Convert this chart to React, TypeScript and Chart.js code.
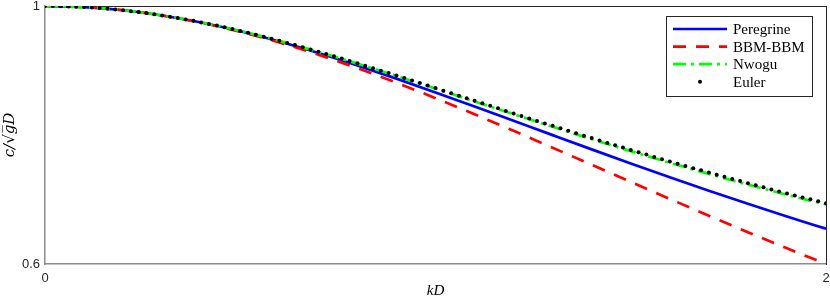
import React, { useEffect, useRef } from "react";
import { Chart, registerables } from "chart.js";

Chart.register(...registerables);

// kD values for the model curves
const kLine = [0, 0.1, 0.2, 0.3, 0.4, 0.5, 0.6, 0.7, 0.8, 0.9, 1.0, 1.1, 1.2, 1.3, 1.4, 1.5, 1.6, 1.7, 1.8, 1.9, 2.0];

const peregrine = [1, 0.99834, 0.9934, 0.98533, 0.97435, 0.96077, 0.94491, 0.92715, 0.90784, 0.88736, 0.86603,
  0.84415, 0.82199, 0.79979, 0.77771, 0.75593, 0.73455, 0.71368, 0.69338, 0.67369, 0.65465];

const bbmBbm = [1, 0.99834, 0.99338, 0.98522, 0.97403, 0.96, 0.9434, 0.9245, 0.90361, 0.88106, 0.85714,
  0.83218, 0.80645, 0.78023, 0.75377, 0.72727, 0.70093, 0.67492, 0.64935, 0.62435, 0.6];

const nwogu = [1, 0.99834, 0.99341, 0.9854, 0.97458, 0.96128, 0.94592, 0.92891, 0.91065, 0.89153, 0.87189,
  0.85205, 0.83224, 0.81269, 0.79355, 0.77494, 0.75696, 0.73967, 0.72311, 0.70729, 0.69222];

// kD values for the Euler reference points
const kEuler = [0, 0.02, 0.04, 0.06, 0.08, 0.1, 0.12, 0.14, 0.16, 0.18, 0.2, 0.22, 0.24, 0.26, 0.28, 0.3, 0.32, 0.34,
  0.36, 0.38, 0.4, 0.42, 0.44, 0.46, 0.48, 0.5, 0.52, 0.54, 0.56, 0.58, 0.6, 0.62, 0.64, 0.66, 0.68, 0.7, 0.72, 0.74,
  0.76, 0.78, 0.8, 0.82, 0.84, 0.86, 0.88, 0.9, 0.92, 0.94, 0.96, 0.98, 1.0, 1.02, 1.04, 1.06, 1.08, 1.1, 1.12, 1.14,
  1.16, 1.18, 1.2, 1.22, 1.24, 1.26, 1.28, 1.3, 1.32, 1.34, 1.36, 1.38, 1.4, 1.42, 1.44, 1.46, 1.48, 1.5, 1.52, 1.54,
  1.56, 1.58, 1.6, 1.62, 1.64, 1.66, 1.68, 1.7, 1.72, 1.74, 1.76, 1.78, 1.8, 1.82, 1.84, 1.86, 1.88, 1.9, 1.92, 1.94,
  1.96, 1.98, 2.0];

const euler = [1, 0.99993, 0.99973, 0.9994, 0.99894, 0.99834, 0.99761, 0.99675, 0.99577, 0.99466, 0.99342, 0.99205,
  0.99057, 0.98897, 0.98725, 0.98541, 0.98347, 0.98141, 0.97925, 0.97698, 0.97461, 0.97215, 0.96959, 0.96694,
  0.9642, 0.96137, 0.95846, 0.95548, 0.95242, 0.94929, 0.94609, 0.94282, 0.9395, 0.93611, 0.93267, 0.92918,
  0.92564, 0.92206, 0.91843, 0.91477, 0.91107, 0.90733, 0.90357, 0.89978, 0.89596, 0.89212, 0.88826, 0.8844,
  0.8805, 0.8766, 0.87269, 0.86878, 0.86485, 0.86093, 0.857, 0.85307, 0.84914, 0.84522, 0.8413, 0.83739, 0.83349,
  0.8296, 0.82572, 0.82186, 0.81801, 0.81416, 0.81034, 0.80652, 0.80275, 0.79898, 0.79523, 0.7915, 0.78779,
  0.78411, 0.78044, 0.77681, 0.77318, 0.7696, 0.76603, 0.76249, 0.75897, 0.75548, 0.75202, 0.74858, 0.74517,
  0.74178, 0.73842, 0.73509, 0.73179, 0.72851, 0.72526, 0.72204, 0.71884, 0.71568, 0.71254, 0.70942, 0.70633,
  0.70328, 0.70025, 0.69725, 0.69427];

const seriesLabels = ["Peregrine", "BBM-BBM", "Nwogu", "Euler"];
const xTicks = [0, 2];
const yTicks = [0.6, 1];
const xTitle = "kD";
const yTitle = "c/\u221Ag\u0305D\u0305";

const TICK_FONT = { family: "'Liberation Sans', Arial, sans-serif", size: 13, lineHeight: 1 };
const SERIF = "'Liberation Serif', 'DejaVu Serif', serif";

const boxLegend = {
  id: "boxLegend",
  afterDraw(chart: any) {
    const { ctx, chartArea } = chart;
    const w = 146;
    const h = 80;
    const x0 = Math.round(chartArea.right - 14 - w);
    const y0 = Math.round(chartArea.top + 10);
    ctx.save();
    ctx.fillStyle = "#ffffff";
    ctx.fillRect(x0, y0, w, h);
    ctx.strokeStyle = "#262626";
    ctx.lineWidth = 1;
    ctx.setLineDash([]);
    ctx.strokeRect(x0 + 0.5, y0 + 0.5, w, h);
    chart.data.datasets.forEach((ds: any, i: number) => {
      const y = y0 + 13 + i * 17.6;
      const lx0 = x0 + 7;
      const lx1 = x0 + 61;
      if (ds.showLine === false) {
        ctx.fillStyle = ds.pointBackgroundColor;
        ctx.beginPath();
        ctx.arc((lx0 + lx1) / 2, y, 2, 0, Math.PI * 2);
        ctx.fill();
      } else {
        ctx.strokeStyle = ds.borderColor;
        ctx.lineWidth = ds.borderWidth;
        ctx.setLineDash(ds.borderDash || []);
        ctx.beginPath();
        ctx.moveTo(lx0, y);
        ctx.lineTo(lx1, y);
        ctx.stroke();
        ctx.setLineDash([]);
      }
      ctx.fillStyle = "#000000";
      ctx.font = `15px ${SERIF}`;
      ctx.textBaseline = "middle";
      ctx.textAlign = "left";
      ctx.fillText(ds.label, x0 + 67, y + 1);
    });
    ctx.restore();
  },
};

export default function App() {
  const ref = useRef<HTMLCanvasElement | null>(null);

  useEffect(() => {
    if (!ref.current) return;
    const toPts = (xs: number[], ys: number[]) => xs.map((x, i) => ({ x, y: ys[i] }));
    const chart = new Chart(ref.current, {
      type: "line",
      data: {
        datasets: [
          {
            label: seriesLabels[0],
            data: toPts(kLine, peregrine),
            borderColor: "#0000ff",
            borderWidth: 2.7,
            pointRadius: 0,
            cubicInterpolationMode: "monotone",
            order: 4,
          },
          {
            label: seriesLabels[1],
            data: toPts(kLine, bbmBbm),
            borderColor: "#ff0000",
            borderWidth: 2.7,
            borderDash: [13, 10],
            pointRadius: 0,
            cubicInterpolationMode: "monotone",
            order: 3,
          },
          {
            label: seriesLabels[2],
            data: toPts(kLine, nwogu),
            borderColor: "#00ff00",
            borderWidth: 2.7,
            borderDash: [13, 5, 3, 5],
            pointRadius: 0,
            cubicInterpolationMode: "monotone",
            order: 2,
          },
          {
            label: seriesLabels[3],
            data: toPts(kEuler, euler),
            showLine: false,
            pointRadius: 2,
            pointBorderWidth: 0,
            pointBackgroundColor: "#000000",
            pointBorderColor: "#000000",
            order: 1,
          },
        ],
      },
      options: {
        animation: false,
        responsive: false,
        maintainAspectRatio: false,
        layout: { padding: { top: 6, right: 4, left: 0, bottom: 0 } },
        plugins: { legend: { display: false }, tooltip: { enabled: false } },
        scales: {
          x: {
            type: "linear",
            min: 0,
            max: 2,
            afterBuildTicks: (s: any) => { s.ticks = xTicks.map((v) => ({ value: v })); },
            afterFit: (s: any) => { s.height = 37; s.paddingLeft = 0; s.paddingRight = 0; },
            grid: { display: false, drawTicks: false },
            border: { display: true, color: "#8c8c8c", width: 1.5 },
            ticks: { font: TICK_FONT, color: "#262626", padding: 8, maxRotation: 0, callback: (v: any) => String(v) },
            title: { display: true, text: xTitle, font: { family: SERIF, size: 15, style: "italic" }, color: "#000", padding: { top: 0, bottom: 1 } },
          },
          y: {
            type: "linear",
            min: 0.6,
            max: 1,
            afterBuildTicks: (s: any) => { s.ticks = yTicks.map((v) => ({ value: v })); },
            afterFit: (s: any) => { s.width = 45; s.paddingTop = 0; s.paddingBottom = 0; },
            grid: { display: false, drawTicks: false },
            border: { display: true, color: "#8c8c8c", width: 1.5 },
            ticks: { font: TICK_FONT, color: "#262626", padding: 5, callback: (v: any) => String(v) },
            title: { display: true, text: yTitle, font: { family: "'DejaVu Serif', serif", size: 15, style: "italic" }, color: "#000", padding: { top: 1, bottom: 0 } },
          },
          x2: {
            type: "linear",
            position: "top",
            min: 0,
            max: 2,
            afterFit: (s: any) => { s.height = 0; s.paddingLeft = 0; s.paddingRight = 0; },
            grid: { display: false, drawTicks: false },
            border: { display: true, color: "#262626", width: 1 },
            ticks: { display: false },
          },
          y2: {
            type: "linear",
            position: "right",
            min: 0.6,
            max: 1,
            afterFit: (s: any) => { s.width = 0; s.paddingTop = 0; s.paddingBottom = 0; },
            grid: { display: false, drawTicks: false },
            border: { display: true, color: "#262626", width: 1 },
            ticks: { display: false },
          },
        },
      },
      plugins: [boxLegend],
    });
    return () => chart.destroy();
  }, []);

  return (
    <div style={{ position: "fixed", left: 0, top: 0, width: 830, height: 301, background: "#fff" }}>
      <canvas ref={ref} width={830} height={301} style={{ width: 830, height: 301, display: "block" }} />
    </div>
  );
}
